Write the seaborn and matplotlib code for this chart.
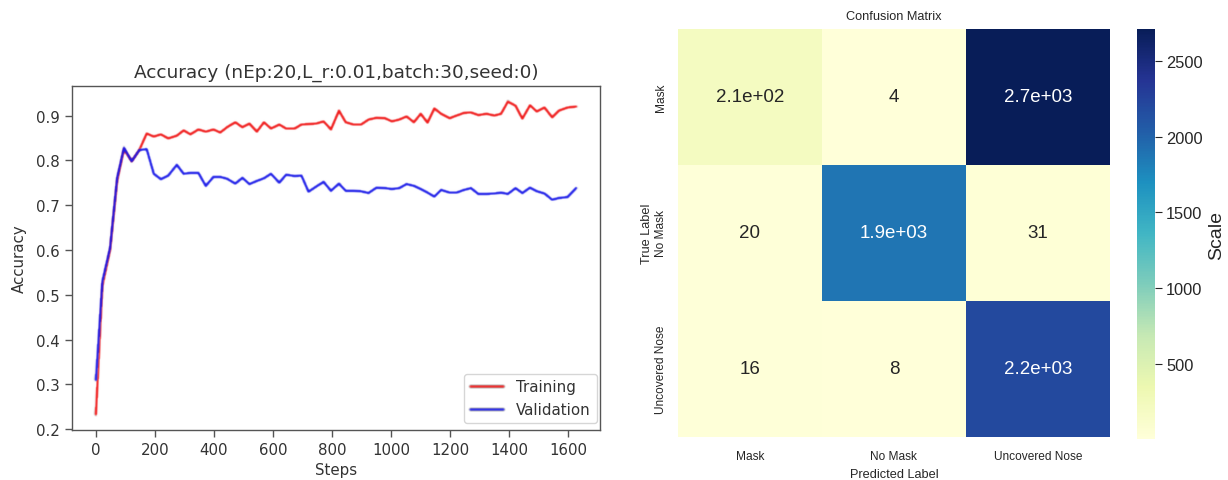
import matplotlib
matplotlib.use("Agg")
import matplotlib.pyplot as plt
import seaborn as sns
import numpy as np
import pandas as pd

# ---- training curve data ----
steps = [0, 22, 48, 72, 95, 121, 147, 172, 196, 220, 245, 274, 297, 320, 347,
         372, 398, 421, 444, 472, 496, 520, 545, 569, 593, 621, 644, 673, 696,
         720, 745, 771, 796, 823, 846, 872, 898, 923, 950, 979, 1002, 1027,
         1052, 1077, 1100, 1123, 1146, 1169, 1198, 1221, 1247, 1270, 1295,
         1323, 1349, 1372, 1395, 1421, 1444, 1470, 1493, 1519, 1545, 1568,
         1597, 1626]
train_acc = [0.233, 0.52, 0.60, 0.755, 0.825, 0.798, 0.823, 0.860, 0.853, 0.858,
             0.849, 0.855, 0.867, 0.858, 0.869, 0.864, 0.869, 0.862, 0.874,
             0.885, 0.874, 0.882, 0.864, 0.885, 0.871, 0.880, 0.871, 0.871,
             0.880, 0.881, 0.882, 0.887, 0.869, 0.911, 0.885, 0.880, 0.880,
             0.891, 0.895, 0.894, 0.887, 0.891, 0.898, 0.885, 0.904, 0.884,
             0.916, 0.904, 0.894, 0.900, 0.906, 0.907, 0.901, 0.904, 0.900,
             0.904, 0.931, 0.922, 0.893, 0.923, 0.909, 0.918, 0.896, 0.911,
             0.918, 0.920]
val_acc = [0.310, 0.53, 0.605, 0.761, 0.828, 0.798, 0.823, 0.825, 0.770, 0.758,
           0.766, 0.790, 0.770, 0.772, 0.772, 0.743, 0.763, 0.763, 0.759,
           0.748, 0.761, 0.747, 0.754, 0.760, 0.770, 0.750, 0.768, 0.765,
           0.766, 0.730, 0.741, 0.752, 0.732, 0.748, 0.732, 0.732, 0.731,
           0.727, 0.739, 0.738, 0.736, 0.738, 0.747, 0.743, 0.736, 0.728,
           0.719, 0.734, 0.728, 0.728, 0.734, 0.738, 0.725, 0.725, 0.726,
           0.728, 0.725, 0.738, 0.727, 0.739, 0.731, 0.726, 0.712, 0.716,
           0.718, 0.738]

# ---- confusion matrix data ----
class_labels = ["Mask", "No Mask", "Uncovered Nose"]
cm_values = [[212, 4, 2710],
             [20, 1880, 31],
             [16, 8, 2200]]

sns.set_theme(style="white")
plt.rcParams["font.family"] = ["DejaVu Sans"]

W, H = 1228, 481
fig = plt.figure(figsize=(W / 100, H / 100), dpi=100)


def box(x0, y0, x1, y1):
    return [x0 / W, 1 - y1 / H, (x1 - x0) / W, (y1 - y0) / H]


def soften(sigma):
    """Agg filter: small gaussian blur for a softer stroke."""
    r = int(np.ceil(3 * sigma))
    k = np.exp(-0.5 * (np.arange(-r, r + 1) / sigma) ** 2)
    k /= k.sum()

    def _filter(img, dpi):
        pad = np.pad(img, ((r, r), (r, r), (0, 0)), mode="constant")
        out = np.apply_along_axis(lambda m: np.convolve(m, k, mode="same"), 0, pad)
        out = np.apply_along_axis(lambda m: np.convolve(m, k, mode="same"), 1, out)
        return out, -r, -r

    return _filter


# ---------------- left: accuracy curves ----------------
txt = "#333333"
fs = 10.8
ax1 = fig.add_axes(box(72, 87, 600, 431))
curves = pd.DataFrame({"Steps": steps, "Training": train_acc, "Validation": val_acc})
sns.lineplot(data=curves, x="Steps", y="Training", color="#f01818", lw=1.8,
             label="Training", ax=ax1)
sns.lineplot(data=curves, x="Steps", y="Validation", color="#1a1ae8", lw=1.8,
             label="Validation", ax=ax1)
for ln in ax1.get_lines():
    ln.set_agg_filter(soften(0.7))
ax1.set_xlim(-81, 1707)
ax1.set_ylim(0.198, 0.966)
ax1.set_xticks(np.arange(0, 1601, 200))
ax1.set_yticks(np.arange(0.2, 0.91, 0.1))
ax1.set_yticklabels([f"{v:.1f}" for v in np.arange(0.2, 0.91, 0.1)])
ax1.tick_params(axis="both", direction="out", length=5, width=1.0,
                labelsize=fs, colors="#555555", labelcolor=txt,
                bottom=True, left=True, pad=4)
for s in ax1.spines.values():
    s.set_color("#555555")
    s.set_linewidth(1.0)
ax1.set_title("Accuracy (nEp:20,L_r:0.01,batch:30,seed:0)", fontsize=13.3,
              color=txt, pad=7)
ax1.set_xlabel("Steps", fontsize=fs, color=txt, labelpad=3)
ax1.set_ylabel("Accuracy", fontsize=fs, color=txt, labelpad=6)
leg = ax1.legend(loc="lower right", bbox_to_anchor=(1 - 3 / 528, 7 / 344),
                 borderaxespad=0, fontsize=fs, frameon=True, fancybox=True,
                 borderpad=0.4, handlelength=2.2, handletextpad=0.9)
leg.get_frame().set_edgecolor("#cccccc")
for t in leg.get_texts():
    t.set_color(txt)
for h in leg.get_lines():
    h.set_agg_filter(soften(0.7))

# ---------------- right: confusion matrix ----------------
arial = "Liberation Sans"
dark = "#262626"
ax2 = fig.add_axes(box(678, 30, 1110, 438))
cax = fig.add_axes(box(1137, 30, 1155, 440))
cm = pd.DataFrame(cm_values, index=class_labels, columns=class_labels)
sns.heatmap(cm, annot=True, fmt=".2g", cmap="YlGnBu", ax=ax2, cbar_ax=cax,
            annot_kws={"size": 13.5, "family": arial},
            cbar_kws={"label": "Scale"})
ax2.set_title("Confusion Matrix", fontsize=9.2, family=arial, color=dark, pad=7)
ax2.set_xticklabels(class_labels, fontsize=8.6, family=arial, color=dark)
ax2.set_yticklabels(class_labels, fontsize=8.6, family=arial, color=dark,
                    rotation=90, va="center")
ax2.tick_params(axis="both", length=0)
ax2.tick_params(axis="x", pad=9)
ax2.tick_params(axis="y", pad=8)
ax2.set_xlabel("Predicted Label", fontsize=9.2, family=arial, color=dark,
               labelpad=5)
ax2.set_ylabel("True Label", fontsize=9.2, family=arial, color=dark,
               labelpad=1)

cax.tick_params(axis="y", right=True, length=5, width=0.8, colors=dark,
                labelsize=11.8, pad=3)
for lab in cax.get_yticklabels():
    lab.set_family(arial)
cax.set_ylabel("Scale", fontsize=14, family=arial, color=dark, labelpad=4)

fig.savefig("out.png", dpi=100)
